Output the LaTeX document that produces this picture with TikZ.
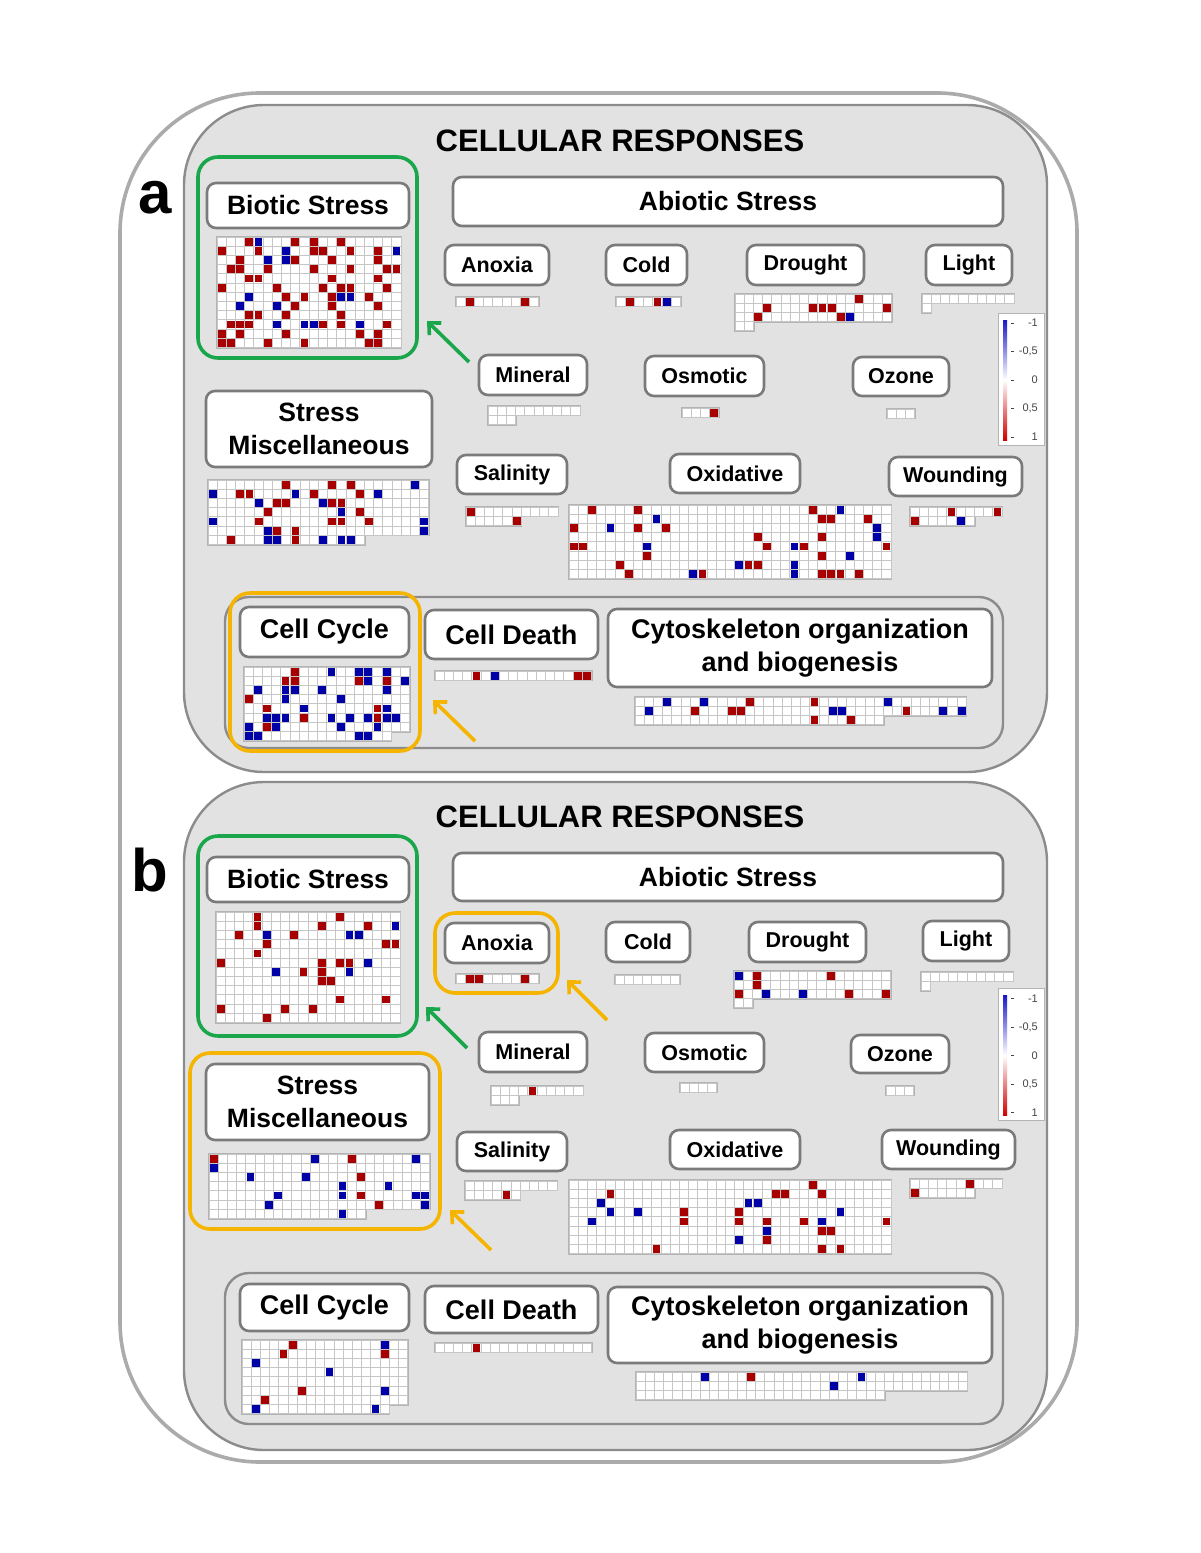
\documentclass[tikz,border=0pt]{standalone}
\usepackage{fontspec}
\setmainfont{Liberation Sans}
\usetikzlibrary{arrows.meta}
\definecolor{panelfill}{HTML}{E2E2E2}
\definecolor{paneldraw}{HTML}{8C8C8C}
\definecolor{outerdraw}{HTML}{ABABAB}
\definecolor{boxdraw}{HTML}{7A7A7A}
\definecolor{hmred}{HTML}{A80000}
\definecolor{hmblue}{HTML}{0000A8}
\definecolor{hmline}{HTML}{C6C6C6}
\definecolor{hmborder}{HTML}{B4B4B4}
\definecolor{hlgreen}{HTML}{1AA64B}
\definecolor{hlorange}{HTML}{F5B400}
\definecolor{legblue}{HTML}{1A1AC8}
\definecolor{legred}{HTML}{D00000}
\definecolor{legtext}{HTML}{444444}
\def\cs{9.2}
\newcommand{\fbig}{\fontsize{26.5}{32.5}\selectfont\bfseries}
\newcommand{\fsmall}{\fontsize{21.5}{26}\selectfont\bfseries}
\newcommand{\fcell}{\fontsize{27}{33}\selectfont\bfseries}
\newcommand{\ftitle}{\fontsize{31}{36}\selectfont\bfseries}
\newcommand{\fletter}{\fontsize{60}{66}\selectfont\bfseries}
\newcommand{\flegend}{\fontsize{11}{13}\selectfont}
% heat map: x, y (top left), row lengths, red cells c/r, blue cells c/r
\newcommand{\hmap}[5]{%
 \begin{scope}[shift={(#1,#2)}]
  \foreach \nn [count=\ri from 0] in {#3}{\draw[hmborder,line width=2.4pt] (0,{\ri*\cs}) rectangle ({\nn*\cs},{\ri*\cs+\cs});}
  \foreach \nn [count=\ri from 0] in {#3}{\fill[white] (0,{\ri*\cs}) rectangle ({\nn*\cs},{\ri*\cs+\cs});
    \foreach \ci in {1,...,\nn}{\draw[hmline,line width=0.9pt] ({(\ci-1)*\cs},{\ri*\cs}) rectangle ++(\cs,\cs);}}
  \ifx\relax#4\relax\else\foreach \ci/\rj in {#4}{\fill[hmred] ({\ci*\cs+0.7},{\rj*\cs+0.7}) rectangle ++({\cs-1.4},{\cs-1.4});}\fi
  \ifx\relax#5\relax\else\foreach \ci/\rj in {#5}{\fill[hmblue] ({\ci*\cs+0.7},{\rj*\cs+0.7}) rectangle ++({\cs-1.4},{\cs-1.4});}\fi
 \end{scope}}
\newcommand{\legendat}[2]{% name prefix, center y
  \node[legbox] (#1) at (1021,#2) {};
  \shade[top color=legblue, bottom color=legred, middle color=white] (1003,{#2-59}) rectangle (1007,{#2+61});
  \foreach \lv [count=\li from 0] in {-1,-0{,}5,0,0{,}5,1}{
    \draw[legtext,line width=0.6pt] (1011,{#2-56+\li*28.5}) -- (1014,{#2-56+\li*28.5});
    \node[legtxt] (#1t\li) at (1038,{#2-56+\li*28.5}) {\lv};}}
\begin{document}
\begin{tikzpicture}[x=1pt,y=-1pt,
  lbox/.style={draw=boxdraw, line width=2.6pt, fill=white, rounded corners=9pt, inner sep=0pt, align=center, font=\fbig},
  sbox/.style={lbox, font=\fsmall},
  cbox/.style={lbox, font=\fcell},
  panel/.style={draw=paneldraw, line width=2.4pt, fill=panelfill, rounded corners=80pt, inner sep=0pt},
  region/.style={draw=paneldraw, line width=2.4pt, fill=panelfill, rounded corners=24pt, inner sep=0pt},
  hlg/.style={draw=hlgreen, line width=3.6pt, rounded corners=20pt, inner sep=0pt},
  hlo/.style={draw=hlorange, line width=3.6pt, rounded corners=20pt, inner sep=0pt},
  garrow/.style={hlgreen, line width=3.6pt, -{Straight Barb[length=9pt,width=17pt]}},
  oarrow/.style={hlorange, line width=3.6pt, -{Straight Barb[length=9pt,width=17pt]}},
  legbox/.style={draw=hmborder, line width=1pt, fill=white, minimum width=46pt, minimum height=132pt, inner sep=0pt},
  legtxt/.style={anchor=east, font=\flegend, text=legtext, inner sep=0pt},
  ttl/.style={font=\ftitle},
  wh/.style 2 args={minimum width=#1pt, minimum height=#2pt}]
\useasboundingbox (0,0) rectangle (1200,1553);
\fill[white] (0,0) rectangle (1200,1553);
% outer frame
\node[draw=outerdraw, line width=3.6pt, fill=white, rounded corners=140pt, wh={957}{1369}] (outer) at (598.5,777.5) {};
% ===================== panel a =====================
\node[panel, wh={863}{667}] (panelA) at (615.5,438.5) {};
\node[ttl] (titleA) at (620,141) {CELLULAR RESPONSES};
\node[font=\fletter] (letA) at (155,198) {a};
\node[lbox, wh={202}{45}] (biotA) at (308,205.5) {Biotic Stress};
\node[lbox, wh={550}{49}] (abiotA) at (728,201.5) {Abiotic Stress};
\node[sbox, wh={104}{40}] (anoxA) at (497,265) {Anoxia};
\node[sbox, wh={81}{40}] (coldA) at (646.5,265) {Cold};
\node[sbox, wh={117}{40}] (drouA) at (805.5,265) {Drought};
\node[sbox, wh={86}{40}] (lightA) at (969,265) {Light};
\node[sbox, wh={108}{40}] (minA) at (533,375) {Mineral};
\node[sbox, wh={119}{40}] (osmA) at (704.5,376) {Osmotic};
\node[sbox, wh={96}{39}] (ozA) at (901,376.5) {Ozone};
\node[lbox, wh={226}{76}] (miscA) at (319,429) {Stress\\Miscellaneous};
\node[sbox, wh={110}{39}] (salA) at (512,474.5) {Salinity};
\node[sbox, wh={130}{39}] (oxA) at (735,473.5) {Oxidative};
\node[sbox, wh={133}{39}] (woundA) at (955.5,476.5) {Wounding};
\node[region, wh={778}{151}] (cellregA) at (614,672.5) {};
\node[cbox, wh={169}{50}] (ccA) at (324.5,632) {Cell Cycle};
\node[cbox, wh={173}{49}] (cdA) at (511.5,634.5) {Cell Death};
\node[cbox, wh={384}{78}] (cytoA) at (800,648) {Cytoskeleton organization\\and biogenesis};
% heat maps a
\hmap{217}{237}{20,20,20,20,20,20,20,20,20,20,20,20}{3/0,8/0,10/0,13/0,0/1,4/1,10/1,11/1,14/1,17/1,2/2,8/2,12/2,17/2,1/3,2/3,5/3,10/3,14/3,18/3,19/3,3/4,4/4,12/4,17/4,0/5,6/5,11/5,13/5,14/5,18/5,7/6,9/6,12/6,16/6,8/7,12/7,17/7,3/8,4/8,7/8,13/8,1/9,2/9,3/9,11/9,13/9,18/9,0/10,2/10,7/10,15/10,17/10,0/11,1/11,5/11,9/11,16/11,17/11}{4/0,7/1,19/1,5/2,7/2,3/6,13/6,14/6,2/7,6/7,6/9,9/9,10/9,15/9}
\hmap{456}{297}{9}{1/0,7/0}{}
\hmap{616}{297}{7}{1/0,4/0}{5/0}
\hmap{735}{294}{17,17,17,2}{13/0,3/1,8/1,9/1,10/1,16/1,2/2,11/2}{12/2}
\hmap{922}{294}{10,1}{}{}
\hmap{488}{406}{10,3}{}{}
\hmap{682}{408}{4}{3/0}{}
\hmap{887}{409}{3}{}{}
\hmap{208}{480}{24,24,24,24,24,24,17}{8/0,13/0,15/0,3/1,4/1,11/1,16/1,7/2,8/2,13/2,14/2,6/3,16/3,5/4,13/4,14/4,17/4,7/5,9/5,2/6,9/6}{22/0,0/1,9/1,18/1,5/2,12/2,14/3,0/4,23/4,6/5,23/5,6/6,7/6,12/6,14/6,15/6}
\hmap{466}{507}{10,6}{0/0,5/1}{}
\hmap{569}{505}{35,35,35,35,35,35,35,35}{2/0,7/0,26/0,27/1,28/1,32/1,0/2,7/2,10/2,20/3,27/3,0/4,1/4,21/4,25/4,34/4,8/5,27/5,5/6,19/6,20/6,6/7,14/7,27/7,28/7,29/7,31/7}{29/0,9/1,4/2,33/2,33/3,8/4,24/4,30/5,18/6,24/6,13/7,24/7}
\hmap{910}{507}{10,7}{4/0,9/0,0/1}{5/1}
\hmap{244}{667}{18,18,18,18,18,18,18,16}{5/0,4/1,5/1,12/1,15/1,0/3,2/4,14/4,6/5,14/5,2/6}{9/0,12/0,13/0,15/0,13/1,17/1,1/2,4/2,5/2,8/2,15/2,4/3,10/3,6/4,15/4,2/5,3/5,4/5,9/5,11/5,13/5,15/5,16/5,0/6,3/6,10/6,14/6,0/7,1/7,12/7,13/7}
\hmap{435}{671}{17}{4/0,15/0,16/0}{6/0}
\hmap{635}{697}{36,36,27}{12/0,19/0,6/1,10/1,11/1,29/1,19/2,23/2}{3/0,7/0,27/0,1/1,21/1,22/1,33/1,35/1}
\legendat{legA}{379}
% highlights a
\node[hlg, wh={219}{201}] (greenA) at (307.5,257.5) {};
\node[hlo, wh={190}{158}] (orangeA) at (325,672) {};
\coordinate (gA1) at (469,362);
\coordinate (gA2) at (427,321);
\draw[garrow] (gA1) -- (gA2);
\coordinate (oA1) at (475,741);
\coordinate (oA2) at (433,700);
\draw[oarrow] (oA1) -- (oA2);
% ===================== panel b =====================
\node[panel, wh={863}{668}] (panelB) at (615.5,1116) {};
\node[ttl] (titleB) at (620,817) {CELLULAR RESPONSES};
\node[font=\fletter] (letB) at (150,870) {b};
\node[lbox, wh={202}{45}] (biotB) at (308,879.5) {Biotic Stress};
\node[lbox, wh={550}{48}] (abiotB) at (728,877) {Abiotic Stress};
\node[sbox, wh={104}{40}] (anoxB) at (497,943) {Anoxia};
\node[sbox, wh={84}{40}] (coldB) at (648,942) {Cold};
\node[sbox, wh={117}{40}] (drouB) at (807.5,942) {Drought};
\node[sbox, wh={86}{40}] (lightB) at (966,941) {Light};
\node[sbox, wh={108}{40}] (minB) at (533,1052) {Mineral};
\node[sbox, wh={119}{39}] (osmB) at (704.5,1052.5) {Osmotic};
\node[sbox, wh={98}{38}] (ozB) at (900,1054) {Ozone};
\node[lbox, wh={223}{76}] (miscB) at (317.5,1102) {Stress\\Miscellaneous};
\node[sbox, wh={110}{39}] (salB) at (512,1151.5) {Salinity};
\node[sbox, wh={130}{39}] (oxB) at (735,1149.5) {Oxidative};
\node[sbox, wh={133}{39}] (woundB) at (948.5,1149.5) {Wounding};
\node[region, wh={778}{151}] (cellregB) at (614,1348.5) {};
\node[cbox, wh={169}{47}] (ccB) at (324.5,1307.5) {Cell Cycle};
\node[cbox, wh={173}{47}] (cdB) at (511.5,1309.5) {Cell Death};
\node[cbox, wh={384}{76}] (cytoB) at (800,1325) {Cytoskeleton organization\\and biogenesis};
% heat maps b
\hmap{216}{912}{20,20,20,20,20,20,20,20,20,20,20,20}{4/0,13/0,4/1,11/1,16/1,2/2,8/2,5/3,18/3,19/3,4/4,0/5,11/5,13/5,14/5,9/6,11/6,11/7,12/7,13/9,18/9,0/10,7/10,10/10,5/11}{19/1,5/2,14/2,15/2,16/5,6/6,14/6}
\hmap{456}{974}{9}{1/0,2/0,7/0}{}
\hmap{615}{975}{7}{}{}
\hmap{734}{971}{17,17,17,2}{2/0,10/0,2/1,0/2,12/2,16/2}{0/0,3/2,7/2}
\hmap{921}{972}{10,1}{}{}
\hmap{491}{1086}{10,3}{4/0}{}
\hmap{680}{1083}{4}{}{}
\hmap{886}{1086}{3}{}{}
\hmap{209}{1154}{24,24,24,24,24,24,17}{0/0,15/0,16/2,16/4,18/5}{11/0,22/0,0/1,4/2,10/2,14/3,19/3,7/4,14/4,22/4,23/4,6/5,23/5,14/6}
\hmap{465}{1181}{10,6}{4/1}{}
\hmap{569}{1180}{35,35,35,35,35,35,35,35}{26/0,4/1,22/1,23/1,27/1,12/3,18/3,12/4,18/4,21/4,25/4,34/4,27/5,28/5,21/6,9/7,27/7,29/7}{3/2,19/2,20/2,4/3,7/3,29/3,2/4,27/4,21/5,18/6}
\hmap{910}{1179}{10,7}{6/0,0/1}{}
\hmap{242}{1340}{18,18,18,18,18,18,18,16}{5/0,4/1,15/1,6/5,2/6}{15/0,1/2,9/3,15/5,1/7,14/7}
\hmap{435}{1343}{17}{4/0}{}
\hmap{636}{1372}{36,36,27}{12/0}{7/0,24/0,21/1}
\legendat{legB}{1054.5}
% highlights b
\node[hlg, wh={219}{200}] (greenB) at (307.5,936) {};
\node[hlo, wh={123}{80}] (orangeB1) at (496.5,953) {};
\node[hlo, wh={250}{176}] (orangeB2) at (315,1141) {};
\coordinate (gB1) at (467,1048);
\coordinate (gB2) at (426,1007);
\draw[garrow] (gB1) -- (gB2);
\coordinate (oB1) at (607,1020);
\coordinate (oB2) at (567,980);
\draw[oarrow] (oB1) -- (oB2);
\coordinate (oB3) at (491,1250);
\coordinate (oB4) at (450,1210);
\draw[oarrow] (oB3) -- (oB4);
\end{tikzpicture}
\end{document}
